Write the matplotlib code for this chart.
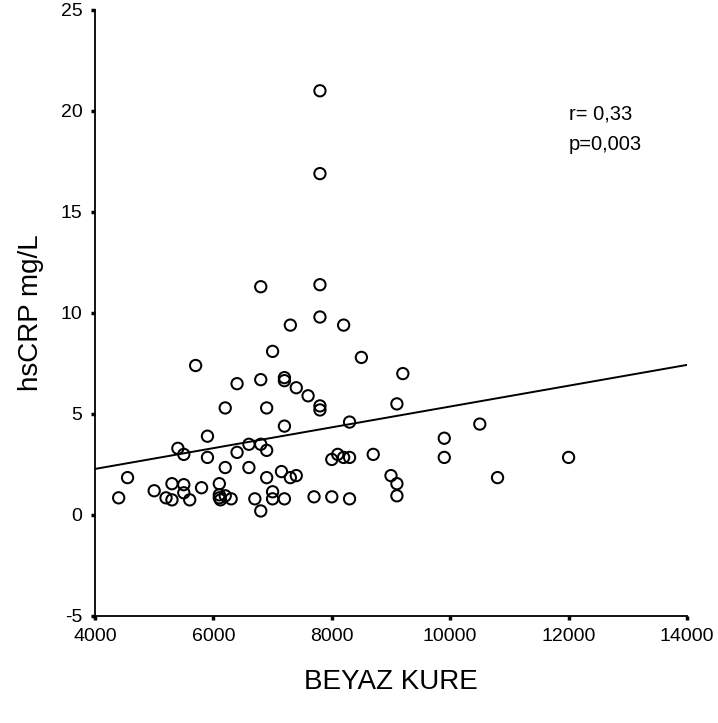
import matplotlib
matplotlib.use('Agg')
import matplotlib.pyplot as plt

plt.rcParams['font.family'] = ['Liberation Sans', 'DejaVu Sans']
plt.rcParams['axes.unicode_minus'] = False

# values
wbc = [6800, 7800, 7800, 7300, 8200, 7000, 5700, 8500, 9200, 6400,
       6800, 7200, 7200, 7400, 7600, 7800, 7800, 9100, 6200, 6900,
       7200, 8300, 5900, 5400, 5500, 5900, 6400, 6600, 6800, 6900,
       8100, 8000, 8200, 8300, 8700, 6200, 6600, 4550, 6900, 7150,
       7300, 7400, 9000, 9100, 9100, 4400, 5000, 5200, 5300, 5300,
       5500, 5500, 5600, 5800, 6100, 6100, 6100, 6120, 6200, 6300,
       6700, 6800, 7000, 7000, 7200, 7700, 8000, 8300, 7800, 7800,
       10500, 9900, 9900, 12000, 10800]
hscrp = [11.3, 11.4, 9.8, 9.4, 9.4, 8.1, 7.4, 7.8, 7.0, 6.5,
         6.7, 6.8, 6.65, 6.3, 5.9, 5.4, 5.2, 5.5, 5.3, 5.3,
         4.4, 4.6, 3.9, 3.3, 3.0, 2.85, 3.1, 3.5, 3.5, 3.2,
         3.0, 2.75, 2.85, 2.85, 3.0, 2.35, 2.35, 1.85, 1.85, 2.15,
         1.85, 1.95, 1.95, 1.55, 0.95, 0.85, 1.2, 0.85, 1.55, 0.75,
         1.5, 1.1, 0.75, 1.35, 1.55, 1.0, 0.85, 0.75, 0.95, 0.8,
         0.8, 0.2, 1.15, 0.8, 0.8, 0.9, 0.9, 0.8, 21.0, 16.9,
         4.5, 3.8, 2.85, 2.85, 1.85]

# regression line ends
fit_x = [4000, 14000]
fit_y = [2.28, 7.43]

x_ticks = [4000, 6000, 8000, 10000, 12000, 14000]
y_ticks = [-5, 0, 5, 10, 15, 20, 25]

fig = plt.figure(figsize=(7.18, 7.23), dpi=100)
ax = fig.add_axes([0.1323, 0.148, 0.8245, 0.8382])

ax.scatter(wbc, hscrp, s=66, facecolors='none', edgecolors='black',
           linewidths=1.45, zorder=3, clip_on=False)
ax.plot(fit_x, fit_y, color='black', linewidth=1.4)

ax.set_xlim(4000, 14000)
ax.set_ylim(-5, 25)
ax.set_xticks(x_ticks)
ax.set_yticks(y_ticks)

for side in ['top', 'right']:
    ax.spines[side].set_visible(False)
for side in ['left', 'bottom']:
    ax.spines[side].set_linewidth(1.3)

ax.tick_params(direction='out', length=3, width=2.5, labelsize=14, pad=6)

ax.set_xlabel('BEYAZ KURE', fontsize=20, labelpad=17)
ax.set_ylabel('hsCRP mg/L', fontsize=20, labelpad=12)

ax.text(12000, 19.6, 'r= 0,33', fontsize=14.5, va='baseline')
ax.text(12000, 18.07, 'p=0,003', fontsize=14.5, va='baseline')

fig.savefig('out.png', dpi=100, facecolor='white')
